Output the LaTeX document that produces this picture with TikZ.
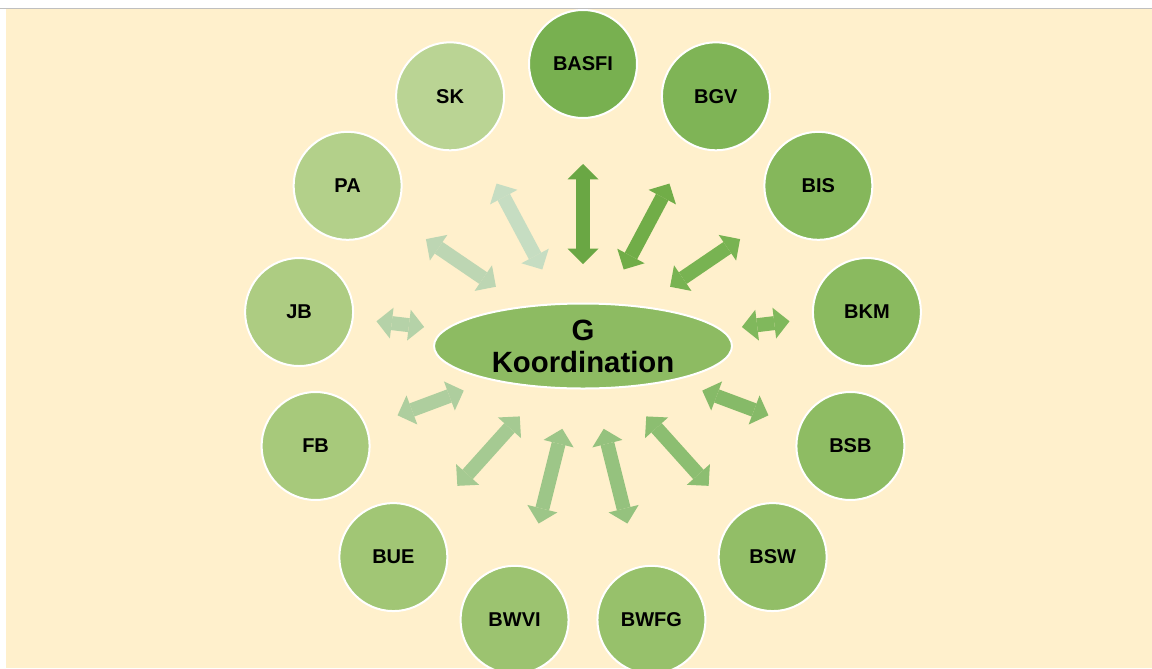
\documentclass[tikz,border=0pt]{standalone}
\usepackage{fontspec}
\setmainfont{Liberation Sans}
\usetikzlibrary{shapes.geometric,arrows.meta,calc}
\definecolor{bg}{HTML}{FFF0CC}
\definecolor{topline}{HTML}{BFBFBF}
\definecolor{ellfill}{HTML}{8DBB62}
\begin{document}
\begin{tikzpicture}[x=0.75pt,y=-0.75pt,
  circ/.style={circle, draw=white, line width=1.5pt, minimum size=81pt, inner sep=0pt,
    font=\fontsize{15}{18}\selectfont\bfseries, text=black},
  ell/.style={ellipse, draw=white, line width=1.5pt, fill=ellfill, minimum width=223.5pt,
    minimum height=63.75pt, inner sep=0pt, align=center,
    font=\fontsize{22}{24}\selectfont\bfseries, text=black},
  dblarrow/.style={line width=10.5pt,
    {Triangle[length=11.5pt,width=23.25pt,line width=0pt]}-{Triangle[length=11.5pt,width=23.25pt,line width=0pt]}}
]
\useasboundingbox (0,0) rectangle (1152,668);
\clip (0,0) rectangle (1152,668);
\fill[white] (0,0) rectangle (1152,668);
\fill[bg] (6,9) rectangle (1152,668);
\draw[topline, line width=0.75pt] (0,8.5) -- (1152,8.5);

\coordinate (O) at (583,346);
\node[ell] (G) at (583,346) {G\\Koordination};

\foreach \nm/\k/\col in {BASFI/0/78B050, BGV/1/7FB456, BIS/2/85B75B, BKM/3/8ABA5F,
    BSB/4/8EBC63, BSW/5/92BE67, BWFG/6/97C16B, BWVI/7/9CC370, BUE/8/A1C675,
    FB/9/A7C97B, JB/10/ADCC82, PA/11/B3D08A, SK/12/BAD494}{
  \definecolor{c\nm}{HTML}{\col}
  \node[circ, fill=c\nm] (\nm) at ($(O)+({-90+\k*360/13}:286 and 282)$) {\nm};
}

\foreach \nm/\da/\db/\col in {BASFI/61.5/136.5/6AA744, BGV/65/138/71AD48, BIS/79/142.5/78B352,
    BKM/120/156/80B85C, BSB/95.5/148.5/86BA68, BSW/71/141/8CBE71, BWFG/64/137.25/95C27E,
    BWVI/64/137.25/9DC688, BUE/71/141/A5CA92, FB/95.5/148.5/AECE9E, JB/120/156/B5D2A8,
    PA/79/142.5/BDD6B3, SK/65/138/C6DDC2}{
  \definecolor{a\nm}{HTML}{\col}
  \draw[dblarrow, draw=a\nm, fill=a\nm] ($(G)!\da pt!(\nm)$) -- ($(G)!\db pt!(\nm)$);
}
\end{tikzpicture}
\end{document}
